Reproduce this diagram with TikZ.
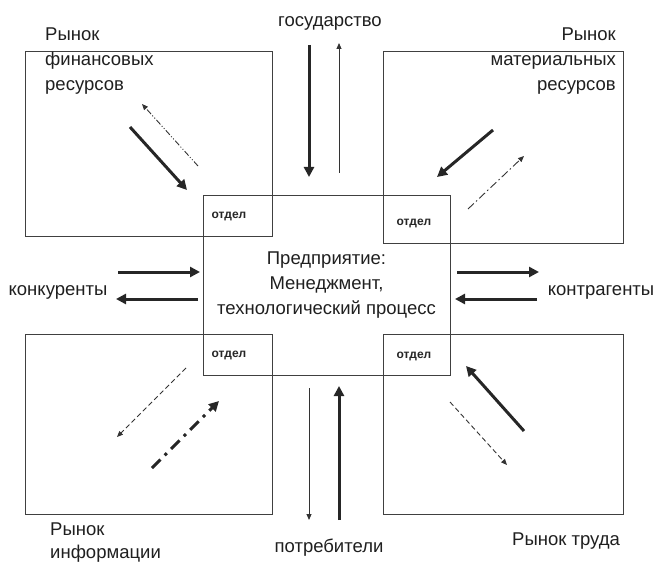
\documentclass[tikz,border=0pt]{standalone}
\usepackage{fontspec}
\setmainfont{Liberation Sans}
\usetikzlibrary{arrows.meta,positioning}

\tikzset{
  market/.style={draw=black!75, line width=0.9pt, inner sep=0pt, anchor=north west},
  dept/.style={font=\fontsize{12}{14}\selectfont\bfseries, text=black!85, inner sep=0pt},
  lbl/.style={font=\fontsize{18.5}{25}\selectfont, text=black!88, inner sep=0pt},
  heavy/.style={draw=black!85, line width=3pt, -{Triangle[length=10pt,width=10pt]}},
  light/.style={draw=black!80, line width=0.9pt, -{Triangle[length=6pt,width=5pt]}},
}

\begin{document}
\begin{tikzpicture}[x=1pt,y=-1pt]
\useasboundingbox (0,0) rectangle (658,564);

% Markets (corner boxes)
\node[market, minimum width=247pt, minimum height=185pt] (finmkt) at (25,51) {};
\node[market, minimum width=240pt, minimum height=192pt] (matmkt) at (383,51) {};
\node[market, minimum width=247pt, minimum height=180pt] (infmkt) at (25,334) {};
\node[market, minimum width=240pt, minimum height=180pt] (labmkt) at (383,334) {};

% Enterprise (center)
\node[market, anchor=center, minimum width=247pt, minimum height=180pt,
      lbl, align=center] (firm) at (326.5,285) {Предприятие:\\Менеджмент,\\технологический процесс};

% Departments in the overlaps
\node[dept] (deptfin) at (229,216) {отдел};
\node[dept] (deptmat) at (414,223) {отдел};
\node[dept] (deptinf) at (229,355) {отдел};
\node[dept] (deptlab) at (414,356) {отдел};

% Labels
\node[lbl, anchor=north west, align=left] (finlbl) at (45,28) {Рынок\\финансовых\\ресурсов};
\node[lbl, anchor=north east, align=right] (matlbl) at (616,28) {Рынок\\материальных\\ресурсов};
\node[lbl, anchor=base] (gov) at (330,27) {государство};
\node[lbl, anchor=base] (cons) at (329,552) {потребители};
\node[lbl, anchor=base] (comp) at (58,295) {конкуренты};
\node[lbl, anchor=base] (partn) at (601,295) {контрагенты};
\node[lbl, anchor=north west, align=left, font=\fontsize{18.5}{23}\selectfont] (inflbl) at (50,523) {Рынок\\информации};
\node[lbl, anchor=base] (lablbl) at (566,545) {Рынок труда};

% Arrow ends
\coordinate (g1) at (309,45);  \coordinate (g2) at (309,177);
\coordinate (g3) at (339,173); \coordinate (g4) at (339,43);
\coordinate (c1) at (309,388); \coordinate (c2) at (309,520);
\coordinate (c3) at (339,520); \coordinate (c4) at (339,386);
\coordinate (k1) at (118,272); \coordinate (k2) at (200,272);
\coordinate (k3) at (198,299); \coordinate (k4) at (116,299);
\coordinate (p1) at (457,272); \coordinate (p2) at (539,272);
\coordinate (p3) at (537,299); \coordinate (p4) at (455,299);
\coordinate (f1) at (130,127); \coordinate (f2) at (187,190);
\coordinate (f3) at (198,166); \coordinate (f4) at (142,104);
\coordinate (m1) at (493,130); \coordinate (m2) at (437,177);
\coordinate (m3) at (468,209); \coordinate (m4) at (524,156);
\coordinate (i1) at (186,368); \coordinate (i2) at (117,437);
\coordinate (i3) at (152,468); \coordinate (i4) at (219,401);
\coordinate (t1) at (524,431); \coordinate (t2) at (466,366);
\coordinate (t3) at (450,402); \coordinate (t4) at (507,465);

% Flows
\draw[heavy] (g1) -- (g2);
\draw[light] (g3) -- (g4);
\draw[light] (c1) -- (c2);
\draw[heavy] (c3) -- (c4);
\draw[heavy] (k1) -- (k2);
\draw[heavy] (k3) -- (k4);
\draw[heavy] (p1) -- (p2);
\draw[heavy] (p3) -- (p4);
\draw[heavy] (f1) -- (f2);
\draw[light, dash pattern=on 6pt off 2pt on 1pt off 2pt on 1pt off 2pt] (f3) -- (f4);
\draw[heavy] (m1) -- (m2);
\draw[light, dash pattern=on 8pt off 3pt on 1.5pt off 3pt] (m3) -- (m4);
\draw[light, dash pattern=on 5pt off 3pt] (i1) -- (i2);
\draw[heavy, dash pattern=on 12pt off 6pt on 3pt off 6pt] (i3) -- (i4);
\draw[heavy] (t1) -- (t2);
\draw[light, dash pattern=on 5pt off 3pt] (t3) -- (t4);

\end{tikzpicture}
\end{document}
